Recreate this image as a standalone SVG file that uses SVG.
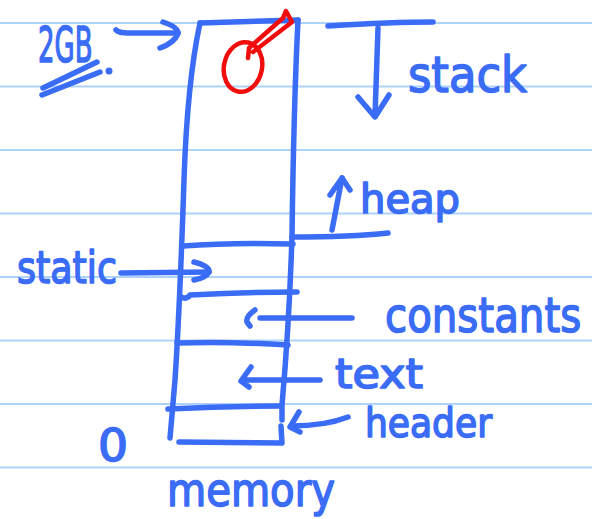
<svg xmlns="http://www.w3.org/2000/svg" width="592" height="519" viewBox="0 0 592 519">
  <style>
    .rule { stroke: #aed3fb; stroke-width: 2; }
    .ink { fill: none; stroke: #3a6cf6; stroke-width: 5.5; stroke-linecap: round; stroke-linejoin: round; }
    .red { fill: none; stroke: #f20d0d; stroke-width: 4.5; stroke-linecap: round; stroke-linejoin: round; }
    .lbl { font-family: "DejaVu Sans", "Liberation Sans", sans-serif; fill: #3a6cf6; stroke: #3a6cf6; stroke-width: 1.6; stroke-linejoin: round; }
  </style>

  <rect width="592" height="519" fill="#ffffff"/>

  <!-- notebook ruling -->
  <g id="ruling">
    <line class="rule" x1="0" y1="23" x2="592" y2="23"/>
    <line class="rule" x1="0" y1="86.5" x2="592" y2="86.5"/>
    <line class="rule" x1="0" y1="150" x2="592" y2="150"/>
    <line class="rule" x1="0" y1="213.5" x2="592" y2="213.5"/>
    <line class="rule" x1="0" y1="277" x2="592" y2="277"/>
    <line class="rule" x1="0" y1="340.5" x2="592" y2="340.5"/>
    <line class="rule" x1="0" y1="404" x2="592" y2="404"/>
    <line class="rule" x1="0" y1="467.5" x2="592" y2="467.5"/>
  </g>

  <!-- memory column with its segments -->
  <g id="memory-column">
    <path class="ink" d="M200,23 L298,20"/>
    <path class="ink" d="M200,23 C192,60 186,120 184,180 C182,240 179,320 175,380 L170,438"/>
    <path class="ink" d="M298,20 C295,80 293,160 292,236 C290,300 286,360 282,405 L282,420"/>
    <path class="ink" d="M281,426 L282,443 L179,442"/>
  </g>

  <g id="seg-heap-top">
    <path class="ink" d="M183,246 C220,243 260,243 293,244"/>
  </g>
  <g id="seg-static">
    <path class="ink" d="M181,297 C185,299 188,298 190,295 C230,293 265,292 297,292"/>
  </g>
  <g id="seg-constants">
    <path class="ink" d="M177,343 C215,342 255,343 288,345"/>
  </g>
  <g id="seg-text">
    <path class="ink" d="M168,409 C205,407 245,406 279,406"/>
  </g>

  <!-- red marker at the top of the stack -->
  <g id="top-marker">
    <ellipse class="red" cx="243" cy="67" rx="19" ry="25" transform="rotate(12 243 67)"/>
    <path class="red" d="M248,58 L249,48 L283,18 L286,11 L292,22 L253,52"/>
  </g>

  <!-- labels -->
  <g id="label-2gb">
    <text class="lbl" transform="translate(38,62) scale(0.52,1)" font-size="50">2GB</text>
    <path class="ink" d="M43,88 L97,62"/>
    <path class="ink" d="M42,95 L100,72"/>
    <circle cx="109" cy="71" r="3.5" fill="#3a6cf6"/>
  </g>

  <g id="label-stack">
    <text class="lbl" x="408" y="92" font-size="50" textLength="119" lengthAdjust="spacingAndGlyphs">stack</text>
  </g>

  <g id="label-heap">
    <text class="lbl" x="360" y="213" font-size="40" textLength="100" lengthAdjust="spacingAndGlyphs">heap</text>
  </g>

  <g id="label-static">
    <text class="lbl" x="17" y="283" font-size="44" textLength="100" lengthAdjust="spacingAndGlyphs">static</text>
  </g>

  <g id="label-constants">
    <text class="lbl" transform="translate(385,332) scale(0.84,1)" font-size="48">constants</text>
  </g>

  <g id="label-text">
    <text class="lbl" x="335" y="388" font-size="40" textLength="88" lengthAdjust="spacingAndGlyphs">text</text>
  </g>

  <g id="label-header">
    <text class="lbl" x="365" y="437" font-size="40" textLength="127" lengthAdjust="spacingAndGlyphs">header</text>
  </g>

  <g id="label-zero">
    <text class="lbl" x="98" y="461" font-size="44" textLength="30" lengthAdjust="spacingAndGlyphs">0</text>
  </g>

  <g id="label-memory">
    <text class="lbl" x="167" y="506" font-size="46" textLength="168" lengthAdjust="spacingAndGlyphs">memory</text>
  </g>

  <!-- pointers and growth arrows -->
  <g id="connectors">
    <!-- 2GB to top of memory -->
    <path class="ink" d="M116,30 C120,34 125,33 178,33"/>
    <path class="ink" d="M163,22 C172,25 178,29 178,33 C176,40 168,45 160,48"/>
    <!-- stack boundary and downward growth -->
    <path class="ink" d="M328,26 C360,24 400,22 433,22"/>
    <path class="ink" d="M378,28 L375,116"/>
    <path class="ink" d="M358,97 L375,117 L389,95"/>
    <!-- heap boundary and upward growth -->
    <path class="ink" d="M292,237 C330,237 360,236 388,233"/>
    <path class="ink" d="M332,230 L342,178"/>
    <path class="ink" d="M330,195 L342,178 L350,190"/>
    <!-- static -->
    <path class="ink" d="M121,273 L209,272"/>
    <path class="ink" d="M194,262 C203,264 210,268 209,272 C206,277 200,279 194,280"/>
    <!-- constants -->
    <path class="ink" d="M255,310 C249,314 246,318 247,322 L250,326"/>
    <path class="ink" d="M260,318 L352,318"/>
    <!-- text -->
    <path class="ink" d="M320,380 L244,380"/>
    <path class="ink" d="M251,367 L241,381 L249,387"/>
    <!-- header -->
    <path class="ink" d="M348,417 C330,424 310,426 291,426"/>
    <path class="ink" d="M299,412 L290,427 L300,432"/>
  </g>
</svg>
